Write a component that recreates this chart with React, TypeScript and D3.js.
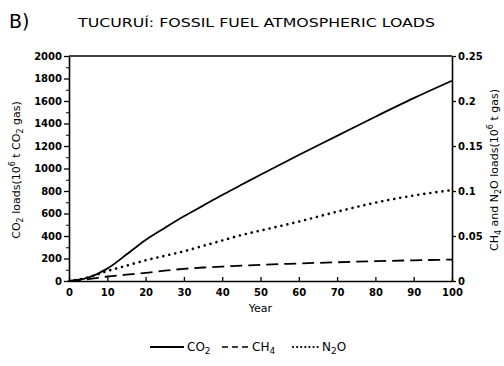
import React, { useEffect, useRef } from "react";
import * as d3 from "d3";

const years = [0, 5, 10, 15, 20, 25, 30, 35, 40, 45, 50, 60, 70, 80, 90, 100];
const co2 = [0, 30, 110, 235, 365, 472, 575, 670, 765, 855, 945, 1120, 1290, 1460, 1625, 1780];
const ch4 = [0, 0.002, 0.005, 0.007, 0.009, 0.0115, 0.0135, 0.015, 0.016, 0.017, 0.018, 0.0195, 0.0208, 0.022, 0.023, 0.0238];
const n2o = [0, 0.004, 0.011, 0.017, 0.023, 0.028, 0.033, 0.039, 0.045, 0.051, 0.056, 0.066, 0.077, 0.087, 0.095, 0.101];

const xTicks = [0, 10, 20, 30, 40, 50, 60, 70, 80, 90, 100];
const leftTicks = [0, 200, 400, 600, 800, 1000, 1200, 1400, 1600, 1800, 2000];
const rightTicks = [0, 0.05, 0.1, 0.15, 0.2, 0.25];
const rightLabels = ["0", "0.05", "0.1", "0.15", "0.2", "0.25"];

const FONT = "'DejaVu Sans', sans-serif";

export default function App() {
  const ref = useRef<SVGSVGElement>(null);

  useEffect(() => {
    const svg = d3.select(ref.current);
    svg.selectAll("*").remove();

    const margin = { top: 56, left: 69, bottom: 85, right: 52 };
    const width = 504;
    const height = 366;
    const iw = width - margin.left - margin.right;
    const ih = height - margin.top - margin.bottom;

    const x = d3.scaleLinear().domain([0, 100]).range([0, iw]);
    const yL = d3.scaleLinear().domain([0, 2000]).range([ih, 0]);
    const yR = d3.scaleLinear().domain([0, 0.25]).range([ih, 0]);

    // title
    svg.append("text").attr("x", 9).attr("y", 28)
      .style("font-family", FONT).style("font-size", "19px")
      .text("B)");
    svg.append("text").attr("x", 78).attr("y", 27)
      .attr("textLength", 357).attr("lengthAdjust", "spacingAndGlyphs")
      .style("font-family", FONT).style("font-size", "13px")
      .text("TUCURUÍ: FOSSIL FUEL ATMOSPHERIC LOADS");

    const g = svg.append("g").attr("transform", `translate(${margin.left},${margin.top})`);

    // frame top
    g.append("line").attr("x1", 0).attr("x2", iw).attr("y1", 0).attr("y2", 0)
      .attr("stroke", "#000").attr("stroke-width", 1.5);

    const styleAxis = (sel: any) => {
      sel.select(".domain").attr("stroke-width", 1.6);
      sel.selectAll(".tick line").attr("stroke-width", 1.3);
      sel.selectAll("text").style("font-family", FONT).style("font-size", "10px")
        .style("font-weight", "bold").attr("fill", "#000");
    };

    // x axis
    g.append("g").attr("transform", `translate(0,${ih})`)
      .call(d3.axisBottom(x).tickValues(xTicks).tickSize(-4).tickSizeOuter(0).tickPadding(8).tickFormat(d3.format("d")))
      .call(styleAxis);

    // left axis with minor ticks
    g.append("g")
      .call(d3.axisLeft(yL).tickValues(d3.range(100, 2000, 200)).tickSize(3).tickFormat(() => "").tickSizeOuter(0));
    g.append("g")
      .call(d3.axisLeft(yL).tickValues(leftTicks).tickSize(5).tickSizeOuter(0).tickPadding(2).tickFormat(d3.format("d")))
      .call(styleAxis);

    // right axis
    g.append("g").attr("transform", `translate(${iw},0)`)
      .call(d3.axisRight(yR).tickValues(rightTicks).tickSize(4).tickSizeOuter(0).tickPadding(2)
        .tickFormat((d, i) => rightLabels[i]))
      .call(styleAxis);

    // axis titles
    svg.append("text").attr("x", 0).attr("y", 0)
      .attr("transform", `translate(20,170) rotate(-90)`)
      .attr("text-anchor", "middle")
      .style("font-family", FONT).style("font-size", "11px")
      .html("CO<tspan font-size='8' dy='3'>2</tspan><tspan dy='-3'> loads(10</tspan><tspan font-size='8' dy='-5'>6</tspan><tspan dy='5'> t CO</tspan><tspan font-size='8' dy='3'>2</tspan><tspan dy='-3'> gas)</tspan>");
    svg.append("text").attr("x", 0).attr("y", 0)
      .attr("transform", `translate(498,170) rotate(-90)`)
      .attr("text-anchor", "middle")
      .style("font-family", FONT).style("font-size", "11px")
      .html("CH<tspan font-size='8' dy='3'>4</tspan><tspan dy='-3'> and N</tspan><tspan font-size='8' dy='3'>2</tspan><tspan dy='-3'>O loads(10</tspan><tspan font-size='8' dy='-5'>6</tspan><tspan dy='5'> t gas)</tspan>");
    svg.append("text").attr("x", margin.left + x(50)).attr("y", 312)
      .attr("text-anchor", "middle")
      .style("font-family", FONT).style("font-size", "11px")
      .text("Year");

    // lines
    const lineL = d3.line<number>().x((d, i) => x(years[i])).y(d => yL(d)).curve(d3.curveMonotoneX);
    const lineR = d3.line<number>().x((d, i) => x(years[i])).y(d => yR(d)).curve(d3.curveMonotoneX);

    g.append("path").attr("d", lineL(co2)).attr("fill", "none").attr("stroke", "#000").attr("stroke-width", 1.8);
    g.append("path").attr("d", lineR(ch4)).attr("fill", "none").attr("stroke", "#000").attr("stroke-width", 1.8)
      .attr("stroke-dasharray", "12 6");
    g.append("path").attr("d", lineR(n2o)).attr("fill", "none").attr("stroke", "#000").attr("stroke-width", 2.6)
      .attr("stroke-dasharray", "0.1 6").attr("stroke-linecap", "round");

    // legend
    const lg = svg.append("g").attr("transform", "translate(0,347)");
    const items = [
      { x1: 150, x2: 184, dash: "", w: 1.8, cap: "butt", tx: 187, label: "CO", sub: "2", after: "" },
      { x1: 222, x2: 250, dash: "6 4", w: 1.6, cap: "butt", tx: 252, label: "CH", sub: "4", after: "" },
      { x1: 293, x2: 319, dash: "0.1 4", w: 2.2, cap: "round", tx: 322, label: "N", sub: "2", after: "O" },
    ];
    items.forEach(it => {
      lg.append("line").attr("x1", it.x1).attr("x2", it.x2).attr("y1", 0).attr("y2", 0)
        .attr("stroke", "#000").attr("stroke-width", it.w).attr("stroke-dasharray", it.dash)
        .attr("stroke-linecap", it.cap);
      const t = lg.append("text").attr("x", it.tx).attr("y", 4)
        .style("font-family", FONT).style("font-size", "12px");
      t.append("tspan").text(it.label);
      t.append("tspan").attr("font-size", 9).attr("dy", 3).text(it.sub);
      if (it.after) t.append("tspan").attr("dy", -3).text(it.after);
    });
  }, []);

  return (
    <svg ref={ref} width={504} height={366}
      style={{ position: "absolute", left: 0, top: 0, background: "#fff" }} />
  );
}
